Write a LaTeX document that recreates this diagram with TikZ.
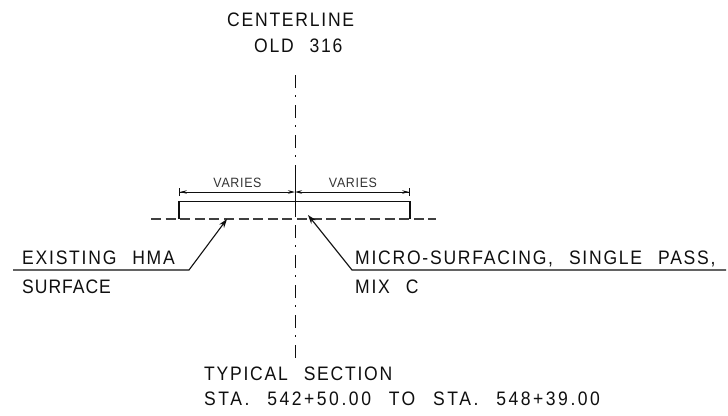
\documentclass[tikz,border=0pt]{standalone}
\usepackage{fontspec}
\usepackage{tikz}
\usetikzlibrary{arrows.meta}
\newfontfamily\cadfont[LetterSpace=9, FakeStretch=0.9, WordSpace=2.4]{Liberation Sans}
\newfontfamily\cadfontwide[LetterSpace=13, FakeStretch=0.9, WordSpace=2.4]{Liberation Sans}
\newfontfamily\cadfontnarrow[LetterSpace=5, FakeStretch=0.9, WordSpace=2.4]{Liberation Sans}
\newfontfamily\cadsmall[LetterSpace=5, FakeStretch=0.92]{Liberation Sans}
\definecolor{cadblack}{RGB}{15, 15, 15}
\tikzset{
  label/.style={anchor=base west, inner sep=0pt, color=cadblack, font=\cadfont\fontsize{19.5}{20}\selectfont},
  labelwide/.style={label, font=\cadfontwide\fontsize{19.5}{20}\selectfont},
  labelnarrow/.style={label, font=\cadfontnarrow\fontsize{19.5}{20}\selectfont},
  dimlabel/.style={anchor=base, inner sep=0pt, color=cadblack!85, font=\cadsmall\fontsize{13.5}{14}\selectfont},
  cadline/.style={color=cadblack, line width=1.1pt},
  thinline/.style={color=cadblack, line width=0.8pt},
  leaderline/.style={color=cadblack, line width=1.1pt},
  centerdash/.style={color=cadblack, line width=0.9pt, dash pattern=on 13pt off 7pt on 2pt off 8pt},
  existdash/.style={color=cadblack!80, line width=1.1pt, dash pattern=on 10pt off 4.6pt},
  leadertip/.style={-{Stealth[length=9pt,width=6pt]}}
}
\begin{document}
\begin{tikzpicture}[x=1pt, y=-1pt]
            \useasboundingbox (0,0) rectangle (728,415);
            % centerline
            \coordinate (cltop) at (295, 75);
            \coordinate (clbot) at (295, 358);
            \coordinate (clmida) at (295, 169);
            \coordinate (clmidb) at (295, 215);
            \draw[centerdash] (cltop) -- (clbot);
            \draw[thinline, line width=0.9pt] (clmida) -- (clmidb);
            % section
            \coordinate (roadl) at (179, 219);
            \coordinate (roadlt) at (179, 201.5);
            \coordinate (roadrt) at (410, 201.5);
            \coordinate (roadr) at (410, 219);
            \draw[cadline] (roadl) -- (roadlt) -- (roadrt) -- (roadr);
            \coordinate (exl) at (151, 219);
            \coordinate (exr) at (436, 219);
            \draw[existdash] (exl) -- (exr);
            % dimensions
            \coordinate (diml) at (179, 192);
            \coordinate (dimc) at (295, 192);
            \coordinate (dimr) at (410, 192);
            \draw[thinline, {Bar[width=8pt]Stealth[length=7pt,width=3.5pt]}-{Stealth[length=7pt,width=3.5pt]}] (diml) -- (dimc);
            \draw[thinline, {Stealth[length=7pt,width=3.5pt]}-{Stealth[length=7pt,width=3.5pt]Bar[width=8pt]}] (dimc) -- (dimr);
            \node[dimlabel] (varl) at (237.5, 187) {VARIES};
            \node[dimlabel] (varr) at (353, 187) {VARIES};
            % leaders
            \coordinate (lefta) at (13, 270);
            \coordinate (leftb) at (189, 270);
            \coordinate (lefttip) at (227, 219);
            \coordinate (righta) at (726, 270);
            \coordinate (rightb) at (352, 270);
            \coordinate (righttip) at (308, 215);
            \draw[leaderline, leadertip] (lefta) -- (leftb) -- (lefttip);
            \draw[leaderline, leadertip] (righta) -- (rightb) -- (righttip);
            % text
            \node[label] (clname) at (227, 27) {CENTERLINE};
            \node[label] (oldname) at (254, 52) {OLD 316};
            \node[label] (exname) at (22, 264) {EXISTING HMA};
            \node[labelnarrow] (exsurf) at (22, 293) {SURFACE};
            \node[label] (microname) at (355, 264) {MICRO-SURFACING, SINGLE PASS,};
            \node[label] (mixname) at (355, 293) {MIX C};
            \node[label] (secname) at (204, 380) {TYPICAL SECTION};
            \node[labelwide] (staname) at (204, 405) {STA. 542+50.00 TO STA. 548+39.00};
        \end{tikzpicture}
\end{document}
